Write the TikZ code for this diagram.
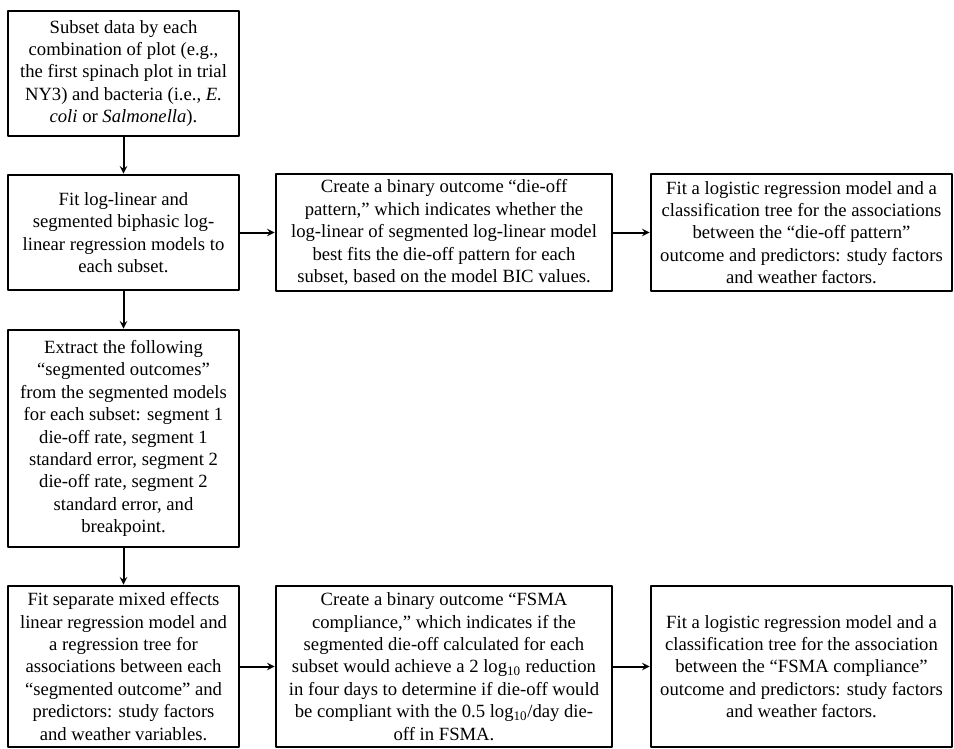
\documentclass[tikz,border=0pt]{standalone}
\usepackage{fontspec}
\setmainfont{Liberation Serif}
\usepackage{tikz}
\usetikzlibrary{arrows}

\begin{document}
\begin{tikzpicture}[line cap=round,line join=round,>=stealth
  ,x=0.75pt,y=-0.75pt
  ,procbox/.style={draw,line width=2pt,align=center,inner sep=2pt
    ,font=\fontsize{14}{16.8}\selectfont}
  ,flow/.style={->,line width=1.5pt}]
  \useasboundingbox (0,0) rectangle (954,749);
  % left column
  \node[procbox,minimum width=173.25pt,minimum height=93.75pt] (subset) at (123.5,73.5)
  {Subset data by each\\combination of plot (e.g.,\\the first spinach plot in trial\\NY3) and bacteria (i.e., \textit{E.}\\\textit{coli} or \textit{Salmonella}).};
  \node[procbox,minimum width=173.25pt,minimum height=86.25pt] (fitlog) at (123.5,232.5)
  {Fit log-linear and\\segmented biphasic log-\\linear regression models to\\each subset.};
  \node[procbox,minimum width=173.25pt,minimum height=162.75pt] (extract) at (123.5,438.5)
  {Extract the following\\“segmented outcomes”\\from the segmented models\\for each subset: segment 1\\die-off rate, segment 1\\standard error, segment 2\\die-off rate, segment 2\\standard error, and\\breakpoint.};
  \node[procbox,minimum width=173.25pt,minimum height=120.75pt] (mixed) at (123.5,666.5)
  {Fit separate mixed effects\\linear regression model and\\a regression tree for\\associations between each\\“segmented outcome” and\\predictors: study factors\\and weather variables.};
  % top row
  \node[procbox,minimum width=252pt,minimum height=87.75pt] (pattern) at (444,232.5)
  {Create a binary outcome “die-off\\pattern,” which indicates whether the\\log-linear of segmented log-linear model\\best fits the die-off pattern for each\\subset, based on the model BIC values.};
  \node[procbox,minimum width=225.75pt,minimum height=87.75pt] (patternfit) at (801.5,232.5)
  {Fit a logistic regression model and a\\classification tree for the associations\\between the “die-off pattern”\\outcome and predictors: study factors\\and weather factors.};
  % bottom row
  \node[procbox,minimum width=252pt,minimum height=120.75pt] (fsma) at (444,666.5)
  {Create a binary outcome “FSMA\\compliance,” which indicates if the\\segmented die-off calculated for each\\subset would achieve a 2 log\textsubscript{10} reduction\\in four days to determine if die-off would\\be compliant with the 0.5 log\textsubscript{10}/day die-\\off in FSMA.};
  \node[procbox,minimum width=225.75pt,minimum height=120.75pt] (fsmafit) at (801.5,666.5)
  {Fit a logistic regression model and a\\classification tree for the association\\between the “FSMA compliance”\\outcome and predictors: study factors\\and weather factors.};
  % connectors
  \draw[flow] (subset) -- (fitlog);
  \draw[flow] (fitlog) -- (extract);
  \draw[flow] (extract) -- (mixed);
  \draw[flow] (fitlog) -- (pattern);
  \draw[flow] (pattern) -- (patternfit);
  \draw[flow] (mixed) -- (fsma);
  \draw[flow] (fsma) -- (fsmafit);
\end{tikzpicture}
\end{document}
